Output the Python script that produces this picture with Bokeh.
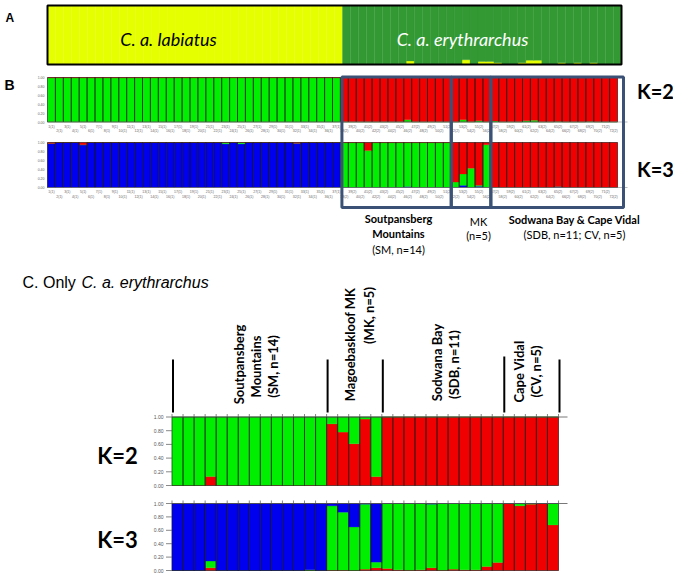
import math
from bokeh.plotting import figure
from bokeh.models import Range1d
from bokeh.embed import file_html
from bokeh.resources import INLINE
from bokeh.core.properties import value

# ---------------- data ----------------
N_LAB = 37                       # C. a. labiatus individuals
ERY_NAMES = ["SM", "MK", "SDB", "CV"]
ERY_SIZES = [14, 5, 11, 5]       # C. a. erythrarchus populations

# Panel A (K=2, subspecies level): yellow share (bottom), rest green
A_yellow_lab = [1.0, 1.0, 1.0, 1.0, 1.0, 1.0, 1.0, 1.0, 1.0, 1.0, 1.0, 1.0, 1.0,
                1.0, 1.0, 1.0, 1.0, 1.0, 1.0, 1.0, 1.0, 1.0, 1.0, 1.0, 1.0, 1.0,
                1.0, 1.0, 1.0, 1.0, 1.0, 1.0, 1.0, 1.0, 1.0, 1.0, 1.0]
A_yellow_ery = [0, 0, 0, 0, 0, 0, 0, 0, 0.06, 0, 0, 0, 0, 0, 0, 0.08, 0, 0.05,
                0.05, 0.03, 0, 0, 0.03, 0.07, 0.07, 0, 0, 0.03, 0, 0.03, 0, 0.03,
                0, 0, 0]

# Panel B K=2: green (bottom), red (rest)
B2_green_lab = [0.99] * 37
B2_green_ery = [0.005, 0.005, 0.005, 0.005, 0.005, 0.005, 0.005, 0.005, 0.05, 0.005,
                0.005, 0.005, 0.005, 0.005,
                0.005, 0.05, 0.005, 0.03, 0.005,
                0.02, 0.005, 0.005, 0.005, 0.03, 0.04, 0.005, 0.005, 0.012, 0.005,
                0.005, 0.005, 0.012, 0.005, 0.005, 0.005]

# Panel B K=3: blue (bottom), green (middle), red (rest)
B3_blue_lab = [0.98, 1, 1, 1, 0.95, 1, 1, 1, 1, 1, 1, 1, 1, 1, 1, 1, 1, 1, 1, 1,
               1, 1, 0.97, 1, 0.97, 1, 1, 1, 1, 1, 1, 0.985, 1, 1, 1, 1, 1]
B3_green_lab = [0, 0, 0, 0, 0, 0, 0, 0, 0, 0, 0, 0, 0, 0, 0, 0, 0, 0, 0, 0,
                0, 0, 0.03, 0, 0.03, 0, 0, 0, 0, 0, 0, 0, 0, 0, 0, 0, 0]
B3_blue_ery = [0, 0, 0, 0, 0, 0, 0, 0, 0.02, 0, 0, 0, 0, 0,
               0, 0.05, 0, 0.03, 0,
               0, 0, 0, 0, 0, 0, 0, 0, 0.02, 0, 0, 0, 0, 0, 0, 0]
B3_green_ery = [0.995, 0.995, 0.995, 0.82, 0.995, 0.995, 0.995, 0.995, 0.975, 0.995,
                0.995, 0.995, 0.995, 0.995,
                0.12, 0.25, 0.43, 0.02, 0.95,
                0, 0, 0, 0, 0, 0, 0, 0, 0, 0, 0, 0, 0, 0, 0, 0]

# Panel C (only C. a. erythrarchus)
C2_red = [0, 0, 0, 0.13, 0.005, 0, 0, 0, 0, 0.005, 0, 0, 0.005, 0,
          0.90, 0.78, 0.61, 0.97, 0.13,
          1, 1, 1, 1, 1, 1, 1, 1, 1, 1, 1,
          1, 1, 1, 1, 1]
C3_red = [0, 0, 0, 0.04, 0, 0, 0, 0, 0, 0, 0, 0, 0, 0,
          0.005, 0.005, 0, 0.02, 0.04,
          0.03, 0.01, 0.005, 0.01, 0.04, 0.005, 0.02, 0.01, 0.01, 0.06, 0.12,
          1.0, 0.965, 0.99, 1.0, 0.68]
C3_green = [0, 0, 0, 0.10, 0, 0, 0, 0, 0, 0, 0, 0, 0.01, 0,
            0.96, 0.865, 0.65, 0.97, 0.085,
            0.97, 0.99, 0.995, 0.99, 0.95, 0.995, 0.98, 0.99, 0.99, 0.94, 0.88,
            0, 0.035, 0.01, 0, 0.32]

B_sample_labels = [f"{i + 1}(1)" for i in range(N_LAB)] + \
                  [f"{N_LAB + i + 1}(2)" for i in range(sum(ERY_SIZES))]
Q_TICKS = [1.0, 0.8, 0.6, 0.4, 0.2, 0.0]
Q_TICK_LABELS = ["1.00", "0.80", "0.60", "0.40", "0.20", "0.00"]

# ---------------- styles ----------------
RED, GREEN, BLUE = "#f00000", "#00ee00", "#0000ee"
A_YELLOW, A_GREEN = "#e6ff00", "#339933"
BOX = "#3b5276"
CAL = value("Lato")
ARIAL = value("Liberation Sans")

p = figure(width=673, height=578, x_range=Range1d(0, 673), y_range=Range1d(578, 0),
           output_backend="svg", toolbar_location=None, min_border=0,
           x_axis_type=None, y_axis_type=None)
p.xgrid.visible = False
p.ygrid.visible = False
p.outline_line_color = None
p.background_fill_color = "white"
p.border_fill_color = "white"


def structure(x0, x1, ytop, ybot, comps, colors, outline=True):
    n = len(comps[0])
    w = (x1 - x0) / n
    lefts = [x0 + i * w for i in range(n)]
    rights = [l + w for l in lefts]
    h = ybot - ytop
    cum = [0.0] * n
    last = [max(0.0, 1.0 - sum(c[i] for c in comps)) for i in range(n)]
    for comp, col in zip(list(comps) + [last], colors):
        b = [ybot - c * h for c in cum]
        cum = [min(1.0, c + v) for c, v in zip(cum, comp)]
        t = [ybot - c * h for c in cum]
        p.quad(left=lefts, right=rights, bottom=b, top=t, fill_color=col,
               line_color=col, line_width=0.3)
    if outline:
        p.quad(left=lefts, right=rights, bottom=[ybot] * n, top=[ytop] * n,
               fill_color=None, line_color="#1a1a1a", line_width=0.6)
    return lefts, w


# ---------------- Panel A ----------------
A_x0, A_x1, A_top, A_bot = 47, 621, 5, 64
structure(A_x0, A_x1, A_top, A_bot, [A_yellow_lab + A_yellow_ery],
          [A_YELLOW, A_GREEN], outline=False)
p.quad(left=[A_x0], right=[A_x1], top=[A_top], bottom=[A_bot], fill_color=None,
       line_color="black", line_width=2)
p.text(x=[168], y=[38], text=["C. a. labiatus"], text_font=CAL,
       text_font_size="18px", text_font_style="italic", text_align="center",
       text_baseline="middle", text_color="black")
p.text(x=[462], y=[38], text=["C. a. erythrarchus"],
       text_font=CAL, text_font_size="18px", text_font_style="italic",
       text_align="center", text_baseline="middle", text_color="white")
p.text(x=[5], y=[17], text=["A"], text_font=ARIAL, text_font_size="12px",
       text_font_style="bold", text_baseline="middle")

# ---------------- Panel B ----------------
B_x0, B_x1 = 47, 617
B_panels = [(77, 121.5, [B2_green_lab + B2_green_ery], [GREEN, RED]),
            (142, 187, [B3_blue_lab + B3_blue_ery, B3_green_lab + B3_green_ery],
             [BLUE, GREEN, RED])]
for top, bot, comps, cols in B_panels:
    lefts, w = structure(B_x0, B_x1, top, bot, comps, cols)
    p.segment(x0=[B_x0], x1=[627], y0=[bot], y1=[bot], line_color="#888888", line_width=0.6)
    p.text(x=[44] * 6, y=[bot - q * (bot - top) for q in Q_TICKS], text=Q_TICK_LABELS,
           text_font=ARIAL, text_font_size="3.5px", text_align="right",
           text_baseline="middle", text_color="#666666")
    cx = [l + w / 2 for l in lefts]
    p.text(x=cx[0::2], y=[bot + 4.5] * len(cx[0::2]), text=B_sample_labels[0::2],
           text_font=ARIAL, text_font_size="3.5px", text_align="center",
           text_baseline="middle", text_color="#666666")
    p.text(x=cx[1::2], y=[bot + 9] * len(cx[1::2]), text=B_sample_labels[1::2],
           text_font=ARIAL, text_font_size="3.5px", text_align="center",
           text_baseline="middle", text_color="#666666")

p.text(x=[4], y=[84], text=["B"], text_font=ARIAL, text_font_size="14px",
       text_font_style="bold", text_baseline="middle")
p.text(x=[655, 655], y=[90, 168], text=["K=2", "K=3"], text_font=CAL,
       text_font_size="20px", text_font_style="bold", text_align="center",
       text_baseline="middle")

# boxes around population groups (SM | MK | SDB+CV)
wB = (B_x1 - B_x0) / (N_LAB + sum(ERY_SIZES))
bnd = [N_LAB, N_LAB + ERY_SIZES[0], N_LAB + ERY_SIZES[0] + ERY_SIZES[1],
       N_LAB + sum(ERY_SIZES)]
bx = [B_x0 + wB * k for k in bnd]
bx[0] += 1.5
bx[-1] += 6
p.quad(left=bx[:-1], right=bx[1:], top=[76.5] * 3, bottom=[207] * 3, fill_color=None,
       line_color=BOX, line_width=3)

b_lines = [(398, 218, "Soutpansberg", "bold"), (398, 233, "Mountains", "bold"),
           (398, 249, "(SM, n=14)", "normal"),
           (478, 221, "MK", "normal"), (478, 235, "(n=5)", "normal"),
           (574, 219, "Sodwana Bay & Cape Vidal", "bold"),
           (574, 234, "(SDB, n=11; CV, n=5)", "normal")]
for x, y, t, st in b_lines:
    p.text(x=[x], y=[y], text=[t], text_font=CAL, text_font_size="11px",
           text_font_style=st, text_align="center", text_baseline="middle")

# ---------------- Panel C ----------------
p.text(x=[22], y=[282], text=["C. Only "], text_font=ARIAL, text_font_size="16px",
       text_baseline="middle")
p.text(x=[81], y=[282], text=["C. a. erythrarchus"], text_font=ARIAL,
       text_font_size="16px", text_font_style="italic", text_baseline="middle")

C_x0, C_x1 = 171.5, 558
C_panels = [(416.5, 485, [C2_red], [RED, GREEN]),
            (503, 570, [C3_red, C3_green], [RED, GREEN, BLUE])]
nC = sum(ERY_SIZES)
wC = (C_x1 - C_x0) / nC
for top, bot, comps, cols in C_panels:
    structure(C_x0, C_x1, top, bot, comps, cols)
    p.segment(x0=[C_x0], x1=[567], y0=[top], y1=[top], line_color="#555555", line_width=0.8)
    tx = [C_x0 + wC * k for k in range(nC + 1)]
    p.segment(x0=tx, x1=tx, y0=[top] * len(tx), y1=[top - 3] * len(tx),
              line_color="#555555", line_width=0.7)
    ty = [bot - q * (bot - top) for q in Q_TICKS]
    p.segment(x0=[C_x0 - 6] * 6, x1=[C_x0] * 6, y0=ty, y1=ty, line_color="#555555",
              line_width=0.7)
    p.text(x=[163] * 6, y=ty, text=Q_TICK_LABELS, text_font=ARIAL, text_font_size="5px",
           text_align="right", text_baseline="middle", text_color="#555555")

p.text(x=[117, 117], y=[455, 539], text=["K=2", "K=3"], text_font=CAL,
       text_font_size="22px", text_font_style="bold", text_align="center",
       text_baseline="middle")

# group separators
cb = [0, ERY_SIZES[0], ERY_SIZES[0] + ERY_SIZES[1], ERY_SIZES[0] + ERY_SIZES[1] + ERY_SIZES[2],
      nC]
gx = [C_x0 + 1 + wC * k for k in cb]
gtop = [359, 359, 359, 356, 359]
p.segment(x0=gx, x1=gx, y0=gtop, y1=[412] * 5, line_color="black", line_width=2)

c_lines = [(238, 364, "Soutpansberg"), (255, 366, "Mountains"), (272, 366, "(SM, n=14)"),
           (349, 344, "Magoebaskloof MK"), (368, 315, "(MK, n=5)"),
           (436, 362, "Sodwana Bay"), (453, 364, "(SDB, n=11)"),
           (518, 371, "Cape Vidal"), (535, 371, "(CV, n=5)")]
for x, y, t in c_lines:
    p.text(x=[x], y=[y], text=[t], text_font=CAL, text_font_size="13px",
           text_font_style="bold", text_align="center", text_baseline="middle",
           angle=math.pi / 2)

open("out.html", "w").write(file_html(p, INLINE))
